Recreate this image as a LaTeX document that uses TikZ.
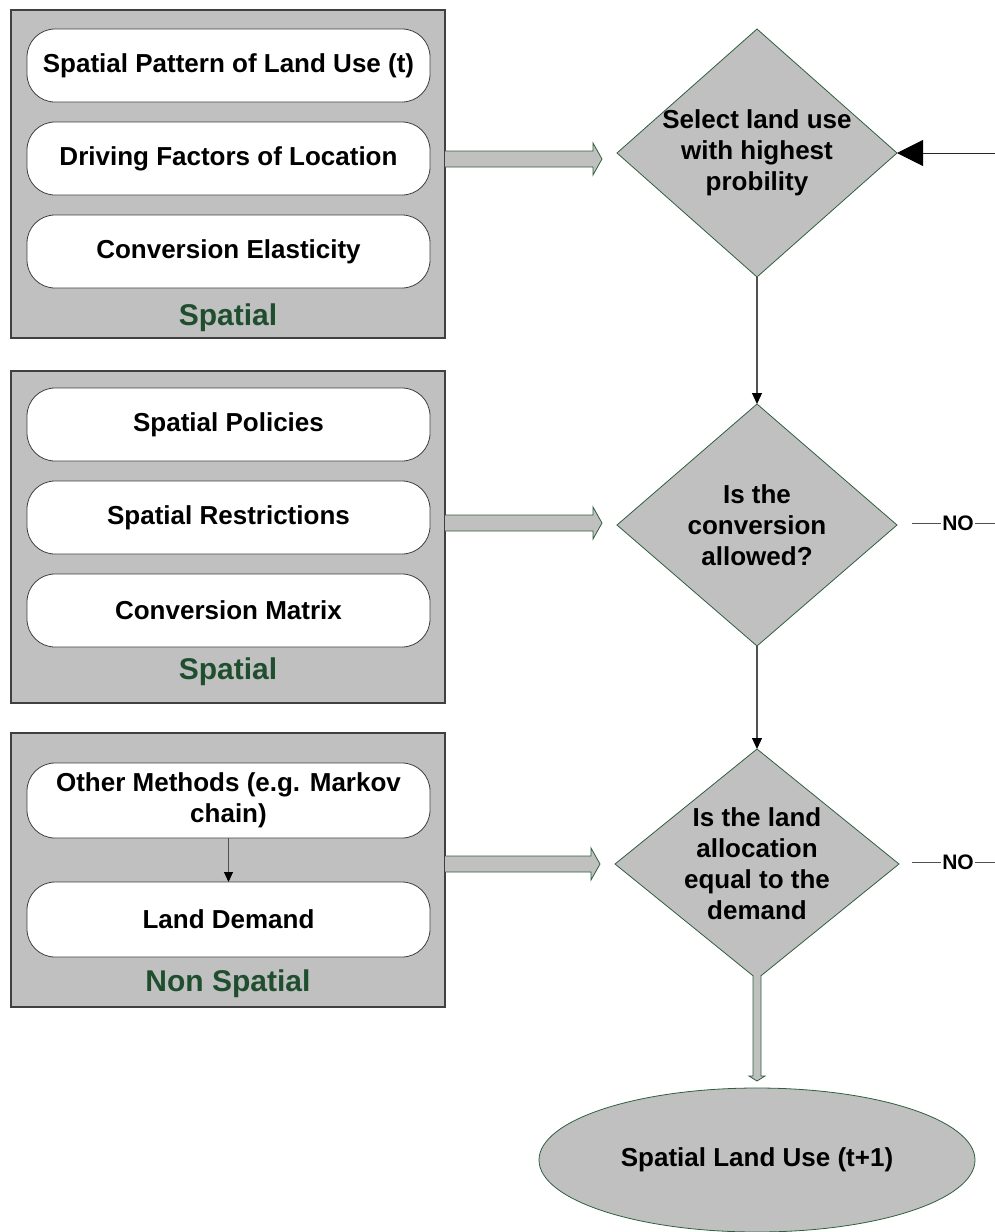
\documentclass[tikz,border=0pt]{standalone}
\usepackage{fontspec}
\setmainfont{Liberation Sans}
\usetikzlibrary{shapes.geometric,arrows.meta,calc}
\definecolor{panelgray}{HTML}{C0C0C0}
\definecolor{edgegreen}{HTML}{2F5F3F}
\definecolor{labelgreen}{HTML}{1F4E2F}
\definecolor{linegray}{HTML}{505050}

% horizontal block arrow: #1 start on the panel edge, #2 tip
\newcommand{\blockright}[2]{%
  \fill[panelgray] ($(#1)+(0,-8)$) -- ($(#2)+(-9,-8)$) -- ($(#2)+(-9,-16)$) -- (#2)
    -- ($(#2)+(-9,16)$) -- ($(#2)+(-9,8)$) -- ($(#1)+(0,8)$) -- cycle;
  \draw[edgegreen,line width=0.8pt] ($(#1)+(0,-8)$) -- ($(#2)+(-9,-8)$) -- ($(#2)+(-9,-16)$) -- (#2)
    -- ($(#2)+(-9,16)$) -- ($(#2)+(-9,8)$) -- ($(#1)+(0,8)$);}
% vertical block arrow: #1 start, #2 tip
\newcommand{\blockdown}[2]{%
  \fill[panelgray] ($(#1)+(-4,0)$) -- ($(#2)+(-4,-5)$) -- ($(#2)+(-8,-5)$) -- (#2)
    -- ($(#2)+(8,-5)$) -- ($(#2)+(4,-5)$) -- ($(#1)+(4,0)$) -- cycle;
  \draw[edgegreen,line width=0.8pt] ($(#1)+(-4,0)$) -- ($(#2)+(-4,-5)$) -- ($(#2)+(-8,-5)$) -- (#2)
    -- ($(#2)+(8,-5)$) -- ($(#2)+(4,-5)$) -- ($(#1)+(4,0)$);}

\begin{document}
\begin{tikzpicture}[x=1pt,y=-1pt,
  panel/.style={draw=black!75,line width=1.2pt,fill=panelgray,inner sep=0pt,outer sep=0pt,anchor=north west},
  item/.style={draw=black!75,line width=0.8pt,fill=white,rounded corners=28pt,
    minimum width=403pt,minimum height=73pt,inner sep=0pt,outer sep=0pt,
    font=\fontsize{26}{31}\selectfont\bfseries,align=center},
  grouplabel/.style={text=labelgreen,font=\fontsize{30}{36}\selectfont\bfseries,inner sep=0pt},
  decision/.style={diamond,draw=edgegreen,line width=0.8pt,fill=panelgray,inner sep=0pt,outer sep=0pt},
  dtext/.style={font=\fontsize{26}{31}\selectfont\bfseries,align=center,inner sep=0pt},
  flow/.style={draw=linegray,line width=1.2pt,-{Triangle[length=11pt,width=10pt,color=black]}},
  notext/.style={font=\fontsize{21}{25}\selectfont\bfseries,inner sep=1pt},
  stub/.style={draw=linegray,line width=1pt}]
\useasboundingbox (0,0) rectangle (995,1232);

% ---- spatial inputs: location ----
\node[panel,minimum width=434pt,minimum height=328pt] (p1) at (11,10) {};
\node[item] (a1) at (228.5,65.5) {Spatial Pattern of Land Use (t)};
\node[item] (a2) at (228.5,158.5) {Driving Factors of Location};
\node[item] (a3) at (228.5,251.5) {Conversion Elasticity};
\node[grouplabel] (l1) at (228,318) {Spatial};

% ---- spatial inputs: restrictions ----
\node[panel,minimum width=434pt,minimum height=332pt] (p2) at (11,371) {};
\node[item] (b1) at (228.5,424.5) {Spatial Policies};
\node[item] (b2) at (228.5,517.5) {Spatial Restrictions};
\node[item] (b3) at (228.5,610.5) {Conversion Matrix};
\node[grouplabel] (l2) at (228,672) {Spatial};

% ---- non spatial inputs ----
\node[panel,minimum width=434pt,minimum height=274pt] (p3) at (11,733) {};
\node[item,minimum height=75pt] (c1) at (228.5,800.5) {Other Methods (e.g. Markov\\chain)};
\node[item,minimum height=75pt] (c2) at (228.5,919.5) {Land Demand};
\node[grouplabel] (l3) at (228,984) {Non Spatial};
\draw[draw=linegray,line width=1pt,-{Triangle[length=10pt,width=9pt,color=black]}] (c1.south) -- (c2.north);

% ---- decisions ----
\node[decision,minimum width=280pt,minimum height=248pt,
  label={[dtext]center:Select land use\\with highest\\probility}] (d1) at (757,153) {};
\node[decision,minimum width=280pt,minimum height=242pt,
  label={[dtext]center:Is the\\conversion\\allowed?}] (d2) at (757,525) {};
\node[decision,minimum width=284pt,minimum height=230pt,
  label={[dtext]center:Is the land\\allocation\\equal to the\\demand}] (d3) at (757,864) {};

\node[ellipse,draw=edgegreen,line width=0.8pt,fill=panelgray,minimum width=436pt,minimum height=144pt,
  inner sep=0pt,outer sep=0pt,font=\fontsize{26}{31}\selectfont\bfseries] (out) at (757,1160) {Spatial Land Use (t+1)};

% ---- flow ----
\draw[flow] (d1.south) -- (d2.north);
\draw[flow] (d2.south) -- (d3.north);

\coordinate (loop) at (995,153);
\draw[draw=black!85,line width=1pt,-{Triangle[length=26pt,width=26pt,color=black]}] (loop) -- (d1.east);

\coordinate (no2a) at (912,523);
\node[notext] (no2) at (958,523) {NO};
\coordinate (no2b) at (995,523);
\draw[stub] (no2a) -- (no2.west);
\draw[stub] (no2.east) -- (no2b);

\coordinate (no3a) at (912,862);
\node[notext] (no3) at (958,862) {NO};
\coordinate (no3b) at (995,862);
\draw[stub] (no3a) -- (no3.west);
\draw[stub] (no3.east) -- (no3b);

% ---- block arrows from the input panels ----
\blockright{p1.east |- 0,159}{602,159}
\blockright{p2.east |- 0,523}{602,523}
\blockright{p3.east |- 0,864}{600,864}
\blockdown{$(d3.south)+(0,-4)$}{$(out.north)+(0,-7)$}
\end{tikzpicture}
\end{document}
